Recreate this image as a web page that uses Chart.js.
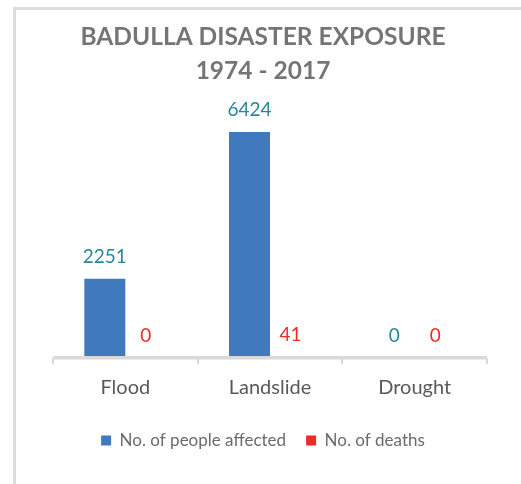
<!DOCTYPE html>
<html>
<head>
<meta charset="utf-8">
<script src="https://cdn.jsdelivr.net/npm/chart.js@4"></script>
<style>
  body { margin: 0; background: #fff; }
  #frame { position: absolute; left: 13px; top: 7px; width: 600px; height: 600px;
           border-left: 3px solid #dcdcdc; border-top: 3px solid #dcdcdc; }
  #js-chart { position: absolute; left: 0; top: 0; }
</style>
</head>
<body>
<div id="frame"></div>
<canvas id="js-chart" width="521" height="484"></canvas>
<script>
const categories = ['Flood', 'Landslide', 'Drought'];
const peopleAffected = [2251, 6424, 0];
const deaths = [0, 41, 0];
const seriesNames = ['No. of people affected', 'No. of deaths'];

const chartElement = document.getElementById('js-chart');

// axis line on top of the bars + values above each bar (no datalabels plugin offline)
const valueLabels = {
    id: 'valueLabels',
    afterDatasetsDraw(chart) {
        const ctx = chart.ctx;
        const area = chart.chartArea;
        ctx.save();
        ctx.strokeStyle = '#d9d9d9';
        ctx.lineWidth = 3.5;
        ctx.beginPath();
        ctx.moveTo(area.left, area.bottom - 0.25);
        ctx.lineTo(area.right, area.bottom - 0.25);
        ctx.stroke();

        ctx.font = '19px Lato';
        ctx.textAlign = 'center';
        ctx.textBaseline = 'middle';
        chart.data.datasets.forEach((ds, i) => {
            ctx.fillStyle = ds.labelColor;
            chart.getDatasetMeta(i).data.forEach((bar, j) => {
                ctx.fillText(ds.data[j], bar.x, bar.y - 22);
            });
        });
        ctx.restore();
    }
};

const chartConfig = {
    type: 'bar',
    data: {
        labels: categories,
        datasets: [{
            label: seriesNames[0],
            data: peopleAffected,
            backgroundColor: '#4179BF',
            labelColor: '#26869C'
        }, {
            label: seriesNames[1],
            data: deaths,
            backgroundColor: '#EE2C24',
            labelColor: '#EE2C24'
        }]
    },
    options: {
        responsive: false,
        animation: false,
        layout: { padding: { left: 39, right: 34, top: 0, bottom: 25 } },
        datasets: { bar: { categoryPercentage: 0.567, barPercentage: 1.0 } },
        scales: {
            x: {
                grid: { drawOnChartArea: false, drawTicks: true, tickLength: 6, color: '#d9d9d9', lineWidth: 2 },
                border: { display: false },
                ticks: { color: '#595959', font: { family: 'Lato', size: 20 }, padding: 12 }
            },
            y: {
                min: 0,
                max: 7500,
                grid: { display: false },
                border: { display: false },
                ticks: { display: false },
                afterFit: (scale) => { scale.width = 14; }
            }
        },
        plugins: {
            title: {
                display: true,
                text: ['BADULLA DISASTER EXPOSURE', '1974 - 2017'],
                color: '#757575',
                font: { family: 'Lato', size: 24.5, weight: 'bold', lineHeight: 1.39 },
                padding: { top: 20, bottom: 6 }
            },
            legend: {
                position: 'bottom',
                labels: { boxWidth: 10, boxHeight: 10, color: '#6b6b6b', font: { family: 'Lato', size: 17 }, padding: 20 }
            },
            tooltip: { enabled: false }
        }
    },
    plugins: [valueLabels]
};

new Chart(chartElement, chartConfig);
</script>
</body>
</html>
